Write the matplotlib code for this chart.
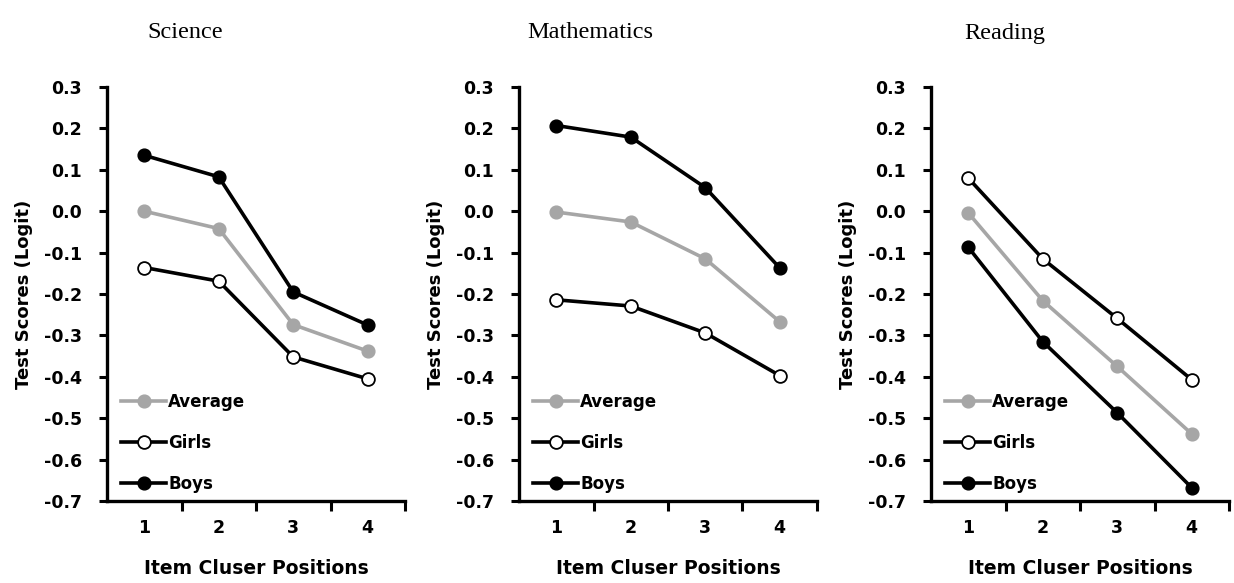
import numpy as np
import matplotlib.pyplot as plt

# Data
positions = [1, 2, 3, 4]
subjects = ["Science", "Mathematics", "Reading"]

science_avg = [0.000, -0.042, -0.274, -0.338]
science_girls = [-0.136, -0.169, -0.352, -0.405]
science_boys = [0.135, 0.083, -0.195, -0.275]

math_avg = [-0.002, -0.026, -0.115, -0.267]
math_girls = [-0.214, -0.229, -0.294, -0.397]
math_boys = [0.207, 0.179, 0.057, -0.137]

reading_avg = [-0.004, -0.216, -0.375, -0.538]
reading_girls = [0.080, -0.115, -0.259, -0.407]
reading_boys = [-0.087, -0.315, -0.487, -0.668]

yticks = [0.3, 0.2, 0.1, 0.0, -0.1, -0.2, -0.3, -0.4, -0.5, -0.6, -0.7]

panels = [
    (science_avg, science_girls, science_boys),
    (math_avg, math_girls, math_boys),
    (reading_avg, reading_girls, reading_boys),
]

FONT = "DejaVu Sans"
W, H = 1234, 583
fig = plt.figure(figsize=(W / 100, H / 100), dpi=100)

# axes boxes in pixels: left, right
boxes = [(107, 405), (519, 817), (931, 1229)]
title_x = [185, 590, 1005]
top_px, bot_px = 87, 501

for (avg, girls, boys), (l, r), subj, tx in zip(panels, boxes, subjects, title_x):
    ax = fig.add_axes([l / W, (H - bot_px) / H, (r - l) / W, (bot_px - top_px) / H])

    ax.plot(positions, avg, color="#a6a6a6", lw=2.6, marker="o", ms=9.2,
            mfc="#a6a6a6", mec="#a6a6a6", label="Average", zorder=3)
    ax.plot(positions, girls, color="black", lw=2.6, marker="o", ms=9.2,
            mfc="white", mec="black", mew=1.3, label="Girls", zorder=3)
    ax.plot(positions, boys, color="black", lw=2.6, marker="o", ms=9.2,
            mfc="black", mec="black", label="Boys", zorder=3)

    ax.set_xlim(0.5, 4.5)
    ax.set_ylim(-0.7, 0.3)
    ax.set_yticks(yticks)
    ax.set_yticklabels([f"{v:.1f}" for v in yticks])
    ax.set_xticks([1.5, 2.5, 3.5, 4.5])
    ax.set_xticklabels([])
    ax.set_xticks(positions, minor=True)
    ax.set_xticklabels([str(p) for p in positions], minor=True)
    ax.tick_params(axis="x", which="minor", length=0, pad=13)
    ax.tick_params(axis="x", which="major", length=7, width=2.2, direction="out")
    ax.tick_params(axis="y", length=6, width=2.2, direction="out", pad=12)

    for s in ["top", "right"]:
        ax.spines[s].set_visible(False)
    for s in ["left", "bottom"]:
        ax.spines[s].set_linewidth(2.4)

    for lab in ax.get_xticklabels(minor=True) + ax.get_yticklabels():
        lab.set_fontfamily(FONT)
        lab.set_fontweight("bold")
        lab.set_fontsize(12.5)

    ax.set_xlabel("Item Cluser Positions", fontfamily=FONT, fontweight="bold",
                  fontsize=13.5, labelpad=16)
    ax.set_ylabel("Test Scores (Logit)", fontfamily=FONT, fontweight="bold",
                  fontsize=13, labelpad=8)

    ax.legend(loc="lower left", bbox_to_anchor=(0.02, 0.0), frameon=False,
              handlelength=2.7, handletextpad=0.12, labelspacing=1.38,
              borderpad=0, prop={"family": FONT, "weight": "bold", "size": 12})

    fig.text(tx / W, 1 - 33 / H, subj, ha="center", va="center",
             fontfamily="Liberation Serif", fontsize=17.5)

fig.savefig("out.png", dpi=100)
